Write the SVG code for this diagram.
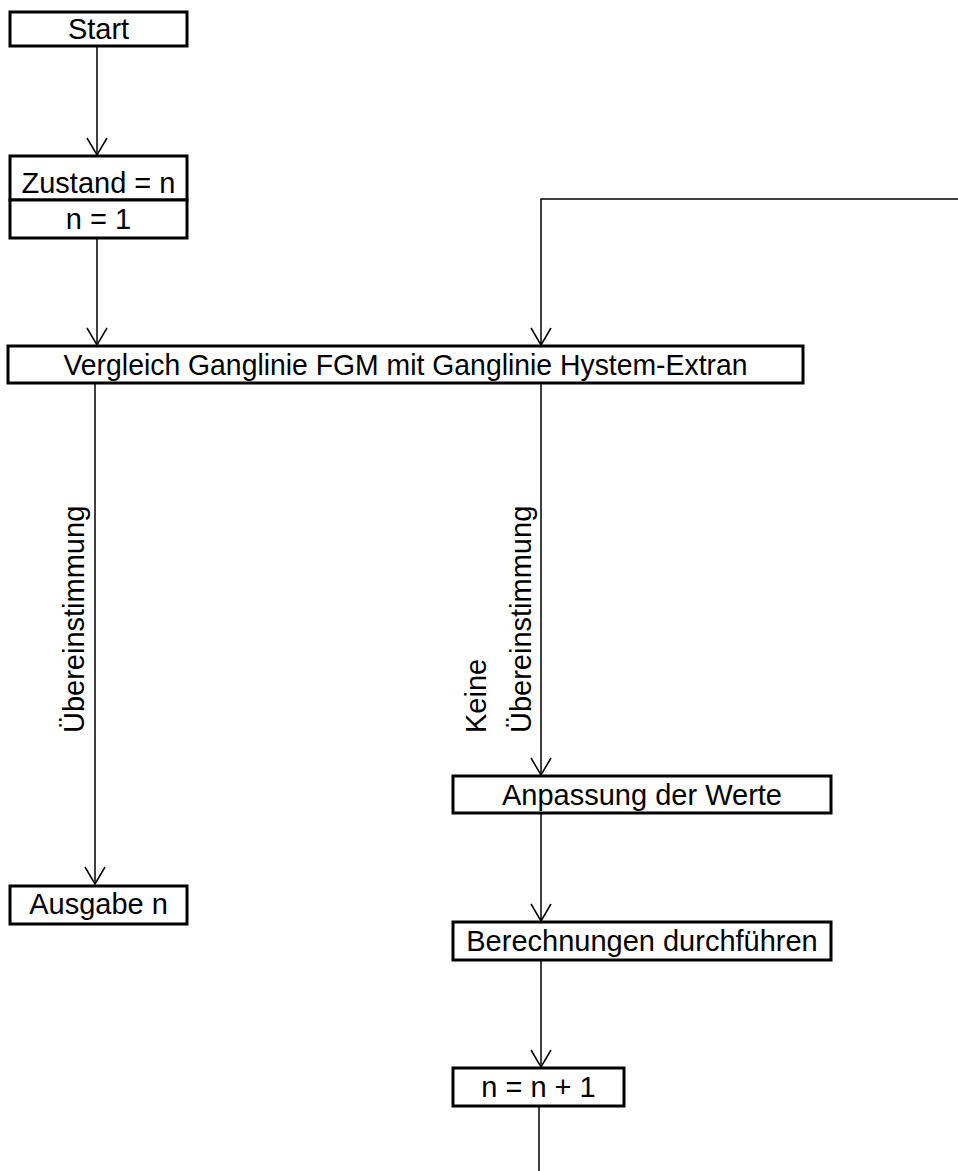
<svg xmlns="http://www.w3.org/2000/svg" width="958" height="1171" viewBox="0 0 958 1171">
<defs>
<marker id="arr" markerWidth="20" markerHeight="22" refX="18" refY="11" orient="auto" markerUnits="userSpaceOnUse" viewBox="0 0 20 22">
<path d="M1,1 L18,11 L1,21" fill="none" stroke="#000" stroke-width="1.5"/>
</marker>
<style>
.box{fill:#fff;stroke:#000;stroke-width:3}
.t{font-family:"Liberation Sans",Arial,sans-serif;font-size:29px;fill:#000;text-anchor:middle}
.l{font-family:"Liberation Sans",Arial,sans-serif;font-size:29px;fill:#000;text-anchor:start}
.c{fill:none;stroke:#000;stroke-width:1.5}
</style>
</defs>
<rect width="958" height="1171" fill="#fff"/>
<g id="connectors">
<line class="c" x1="97" y1="46" x2="97" y2="155" marker-end="url(#arr)"/>
<line class="c" x1="97" y1="238" x2="97" y2="345" marker-end="url(#arr)"/>
<polyline class="c" points="958,199 541,199 541,345" marker-end="url(#arr)"/>
<line class="c" x1="95" y1="383" x2="95" y2="884" marker-end="url(#arr)"/>
<line class="c" x1="541" y1="383" x2="541" y2="775" marker-end="url(#arr)"/>
<line class="c" x1="541" y1="813" x2="541" y2="921" marker-end="url(#arr)"/>
<line class="c" x1="541" y1="960" x2="541" y2="1067" marker-end="url(#arr)"/>
<line class="c" x1="539" y1="1106" x2="539" y2="1171"/>
<text class="l" transform="translate(84,733) rotate(-90)">Übereinstimmung</text>
<text class="l" transform="translate(486,733) rotate(-90)">Keine</text>
<text class="l" transform="translate(531,733) rotate(-90)">Übereinstimmung</text>
</g>
<g id="start">
<rect class="box" x="10" y="12" width="177" height="34"/>
<text class="t" x="98.5" y="39">Start</text>
</g>
<g id="zustand">
<rect class="box" x="10" y="156" width="177" height="44"/>
<text class="t" x="98.5" y="193">Zustand = n</text>
</g>
<g id="n1">
<rect class="box" x="10" y="200" width="177" height="38"/>
<text class="t" x="98.5" y="229">n = 1</text>
</g>
<g id="vergleich">
<rect class="box" x="8" y="346" width="795" height="37"/>
<text class="t" x="405.5" y="375" textLength="684" lengthAdjust="spacingAndGlyphs">Vergleich Ganglinie FGM mit Ganglinie Hystem-Extran</text>
</g>
<g id="ausgabe">
<rect class="box" x="10" y="886" width="177" height="38"/>
<text class="t" x="98.5" y="914">Ausgabe n</text>
</g>
<g id="anpassung">
<rect class="box" x="453" y="776" width="378" height="37"/>
<text class="t" x="642" y="805">Anpassung der Werte</text>
</g>
<g id="berechnungen">
<rect class="box" x="453" y="922" width="378" height="38"/>
<text class="t" x="642" y="951">Berechnungen durchführen</text>
</g>
<g id="inkrement">
<rect class="box" x="453" y="1068" width="171" height="38"/>
<text class="t" x="538.5" y="1097">n = n + 1</text>
</g>
</svg>
